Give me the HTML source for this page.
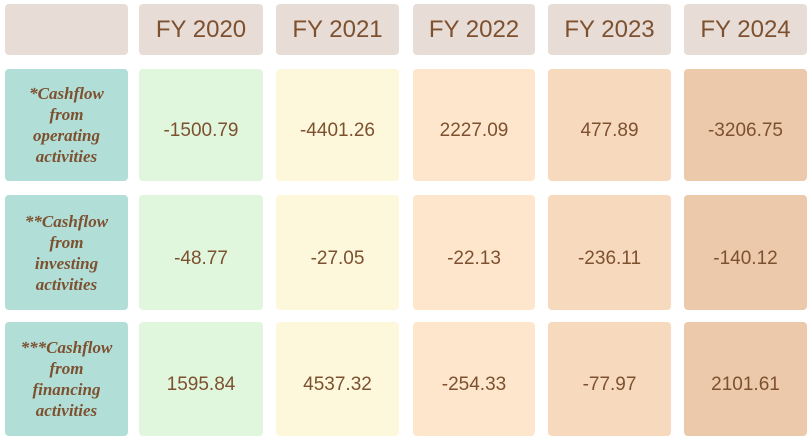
<!DOCTYPE html>
<html><head><style>
body{margin:0;width:812px;height:441px;background:#fff;position:relative;overflow:hidden;font-family:"Liberation Sans",sans-serif;color:#7d5130}
.c{position:absolute;border-radius:4px;display:flex;align-items:center;justify-content:center;text-align:center;box-sizing:border-box}
.h{top:4px;height:51px;background:#e8ddd6;font-size:24px}
.v{font-size:19px;padding-top:12px}
.l{background:#b1dfd8;font-family:"Liberation Serif",serif;font-style:italic;font-weight:bold;font-size:17px;line-height:21px;left:5px;width:123px}
</style></head><body>
<div class="c h" style="left:5px;width:123px"></div>
<div class="c h" style="left:139px;width:124px">FY 2020</div>
<div class="c h" style="left:276px;width:123px">FY 2021</div>
<div class="c h" style="left:413px;width:122px">FY 2022</div>
<div class="c h" style="left:548px;width:123px">FY 2023</div>
<div class="c h" style="left:684px;width:123px">FY 2024</div>

<div class="c l" style="top:69px;height:112px">*Cashflow<br>from<br>operating<br>activities</div>
<div class="c l" style="top:195px;height:115px">**Cashflow<br>from<br>investing<br>activities</div>
<div class="c l" style="top:322px;height:114px">***Cashflow<br>from<br>financing<br>activities</div>

<div class="c v" style="left:139px;width:124px;top:69px;height:112px;background:#e0f7dd">-1500.79</div>
<div class="c v" style="left:276px;width:123px;top:69px;height:112px;background:#fdf8dc">-4401.26</div>
<div class="c v" style="left:413px;width:122px;top:69px;height:112px;background:#fde6cc">2227.09</div>
<div class="c v" style="left:548px;width:123px;top:69px;height:112px;background:#f7d9bd">477.89</div>
<div class="c v" style="left:684px;width:123px;top:69px;height:112px;background:#ecc9aa">-3206.75</div>

<div class="c v" style="left:139px;width:124px;top:195px;height:115px;background:#e0f7dd">-48.77</div>
<div class="c v" style="left:276px;width:123px;top:195px;height:115px;background:#fdf8dc">-27.05</div>
<div class="c v" style="left:413px;width:122px;top:195px;height:115px;background:#fde6cc">-22.13</div>
<div class="c v" style="left:548px;width:123px;top:195px;height:115px;background:#f7d9bd">-236.11</div>
<div class="c v" style="left:684px;width:123px;top:195px;height:115px;background:#ecc9aa">-140.12</div>

<div class="c v" style="left:139px;width:124px;top:322px;height:114px;background:#e0f7dd">1595.84</div>
<div class="c v" style="left:276px;width:123px;top:322px;height:114px;background:#fdf8dc">4537.32</div>
<div class="c v" style="left:413px;width:122px;top:322px;height:114px;background:#fde6cc">-254.33</div>
<div class="c v" style="left:548px;width:123px;top:322px;height:114px;background:#f7d9bd">-77.97</div>
<div class="c v" style="left:684px;width:123px;top:322px;height:114px;background:#ecc9aa">2101.61</div>
</body></html>
